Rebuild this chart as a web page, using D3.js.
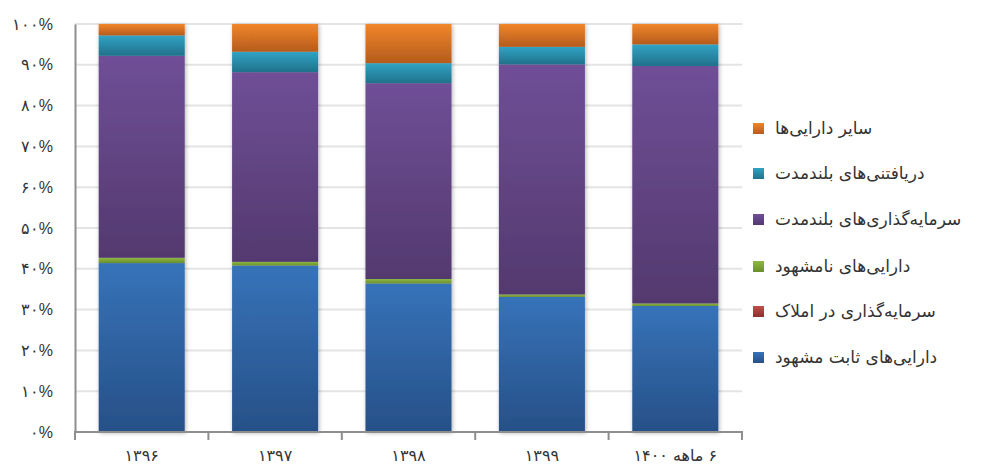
<!DOCTYPE html>
<html>
<head>
<meta charset="utf-8">
<script src="https://cdn.jsdelivr.net/npm/d3@7"></script>
<style>
  html, body { margin: 0; padding: 0; background: #fff; overflow: hidden; }
  svg { display: block; font-family: "DejaVu Sans", "Noto Sans", sans-serif; }
</style>
</head>
<body>
<svg id="chart" width="1004" height="470"></svg>
<script>
// Years (Persian labels)
const categories = ["۱۳۹۶", "۱۳۹۷", "۱۳۹۸", "۱۳۹۹", "۶ ماهه ۱۴۰۰"];

// Share of each asset group in total non-current assets (%)
const fixedAssets      = [41.4, 40.8, 36.4, 33.1, 30.9];
const realEstate       = [0, 0, 0, 0, 0];
const intangibles      = [1.3, 0.9, 1.1, 0.6, 0.6];
const longInvestments  = [49.5, 46.5, 48.0, 56.4, 58.2];
const longReceivables  = [5.0, 5.0, 4.9, 4.3, 5.3];
const otherAssets      = [2.8, 6.8, 9.6, 5.6, 5.0];

const seriesNames = [
  "دارایی‌های ثابت مشهود",
  "سرمایه‌گذاری در املاک",
  "دارایی‌های نامشهود",
  "سرمایه‌گذاری‌های بلندمدت",
  "دریافتنی‌های بلندمدت",
  "سایر دارایی‌ها"
];
const seriesValues = [fixedAssets, realEstate, intangibles, longInvestments, longReceivables, otherAssets];

const yTicks = [0, 10, 20, 30, 40, 50, 60, 70, 80, 90, 100];

// light (top) / dark (bottom) shades for each series
const shades = [
  ["#3673b9", "#275087"],
  ["#c0504d", "#8c2f2d"],
  ["#8db842", "#6a8e2e"],
  ["#6f4f97", "#53396e"],
  ["#31a3c4", "#21718b"],
  ["#f1862a", "#b55b1d"]
];

const faDigits = "۰۱۲۳۴۵۶۷۸۹";
const toFa = n => String(n).replace(/\d/g, d => faDigits[+d]);

const svg = d3.select("#chart");
const margin = {left: 75, right: 262, top: 24, bottom: 38};
const W = 1004, H = 470;
const x0 = margin.left, x1 = W - margin.right;
const yTop = margin.top, yBot = H - margin.bottom;

const x = d3.scaleBand().domain(categories).range([x0, x1]).paddingInner(0.355).paddingOuter(0.1775);
const xCat = d3.scaleBand().domain(categories).range([x0, x1]);
const y = d3.scaleLinear().domain([0, 100]).range([yBot, yTop]);

const defs = svg.append("defs");
shades.forEach((s, i) => {
  const g = defs.append("linearGradient").attr("id", "grad" + i)
    .attr("x1", 0).attr("y1", 0).attr("x2", 0).attr("y2", 1);
  g.append("stop").attr("offset", "0%").attr("stop-color", s[0]);
  g.append("stop").attr("offset", "100%").attr("stop-color", s[1]);
});
const f = defs.append("filter").attr("id", "shadow")
  .attr("x", "-20%").attr("y", "-20%").attr("width", "140%").attr("height", "140%");
f.append("feDropShadow").attr("dx", 1).attr("dy", 1).attr("stdDeviation", 2.2)
  .attr("flood-color", "#000").attr("flood-opacity", 0.3);

// gridlines
svg.append("g").selectAll("line").data(yTicks.filter(t => t > 0)).join("line")
  .attr("x1", x0).attr("x2", x1)
  .attr("y1", d => y(d)).attr("y2", d => y(d))
  .attr("stroke", "#e4e4e4").attr("stroke-width", 2);

// stacked data
const rows = categories.map((c, i) => {
  const r = {cat: c};
  seriesNames.forEach((n, k) => r[n] = seriesValues[k][i]);
  return r;
});
const stacked = d3.stack().keys(seriesNames)(rows);

// bars: one group per category so the shadow wraps the whole column
const barG = svg.append("g");
categories.forEach((c, ci) => {
  const g = barG.append("g").attr("filter", "url(#shadow)");
  stacked.forEach((layer, si) => {
    const d = layer[ci];
    const h = y(d[0]) - y(d[1]);
    if (h <= 0) return;
    g.append("rect")
      .attr("x", x(c)).attr("width", x.bandwidth())
      .attr("y", y(d[1])).attr("height", h)
      .attr("fill", `url(#grad${si})`);
  });
});

// y axis
const yAxis = d3.axisLeft(y).tickValues(yTicks).tickSize(0).tickPadding(22)
  .tickFormat(d => toFa(d) + "%");
const yg = svg.append("g").attr("transform", `translate(${x0},0)`).call(yAxis);
yg.select(".domain").attr("stroke", "#8e8e8e").attr("stroke-width", 2);
yg.selectAll("text").attr("font-size", 16).attr("fill", "#333");

// x axis
svg.append("line").attr("x1", x0 - 1).attr("x2", x1 + 1).attr("y1", yBot).attr("y2", yBot)
  .attr("stroke", "#8e8e8e").attr("stroke-width", 2);
const bounds = categories.map(c => xCat(c)).concat([x1]);
svg.append("g").selectAll("line").data(bounds).join("line")
  .attr("x1", d => d).attr("x2", d => d)
  .attr("y1", yBot).attr("y2", yBot + 8)
  .attr("stroke", "#8e8e8e").attr("stroke-width", 2);
svg.append("g").selectAll("text").data(categories).join("text")
  .attr("x", d => xCat(d) + xCat.bandwidth() / 2)
  .attr("y", 456)
  .attr("dominant-baseline", "middle")
  .attr("text-anchor", "middle")
  .attr("direction", "rtl")
  .attr("font-size", 16).attr("fill", "#333")
  .text(d => d);

// legend (top to bottom: last series first)
const legendOrder = d3.range(seriesNames.length).reverse();
const lg = svg.append("g");
const rowY = [128, 173, 219, 266, 311, 357];
legendOrder.forEach((si, k) => {
  const cy = rowY[k];
  lg.append("rect").attr("x", 753).attr("y", cy - 5).attr("width", 11).attr("height", 11)
    .attr("fill", `url(#grad${si})`);
  lg.append("text").attr("x", 775).attr("y", cy + 6)
    .attr("font-size", 17).attr("fill", "#333")
    .text(seriesNames[si]);
});
</script>
</body>
</html>
